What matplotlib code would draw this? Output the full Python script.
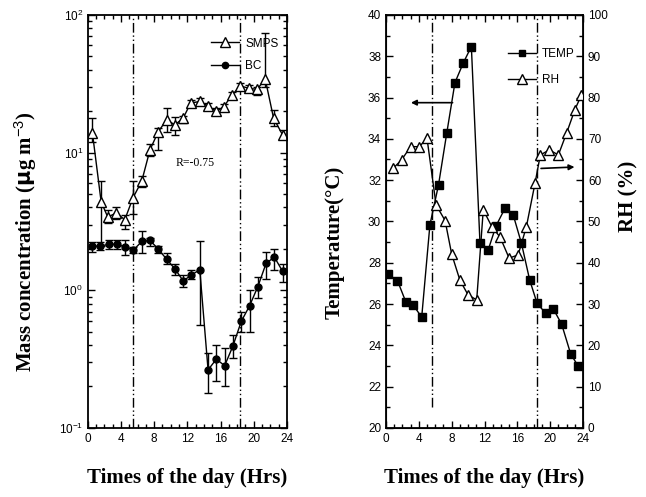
import matplotlib
matplotlib.use("Agg")
import matplotlib.pyplot as plt
import numpy as np
from matplotlib.ticker import MultipleLocator, LogLocator, NullFormatter
from matplotlib.lines import Line2D

# ---------------- data ----------------
smps_hr = [0.55, 1.6, 2.4, 3.45, 4.45, 5.45, 6.5, 7.5, 8.5, 9.5, 10.5, 11.5,
           12.4, 13.5, 14.5, 15.5, 16.4, 17.4, 18.4, 19.4, 20.4, 21.4, 22.4, 23.5]
smps = [13.9, 4.4, 3.4, 3.65, 3.25, 4.7, 6.2, 10.5, 14.2, 17.3, 15.9, 17.8,
        22.9, 23.5, 21.8, 19.9, 21.6, 26.2, 30.5, 29.3, 28.8, 34.1, 17.8, 13.4]
smps_lo = [12.0, 2.1, 3.1, 3.3, 2.8, 3.6, 5.6, 9.5, 10.5, 14.0, 13.5, 16.5,
           21.5, 22.0, 20.5, 18.8, 20.5, 25.0, 29.0, 27.5, 26.0, 30.0, 15.5, 12.5]
smps_hi = [17.8, 6.2, 3.8, 4.05, 3.5, 6.2, 6.8, 11.5, 15.0, 21.0, 18.0, 18.5,
           24.0, 25.0, 23.0, 21.0, 22.5, 27.5, 32.0, 31.0, 30.0, 74.0, 20.5, 14.5]

bc_hr = [0.5, 1.5, 2.5, 3.5, 4.5, 5.5, 6.5, 7.5, 8.5, 9.5, 10.5, 11.5,
         12.5, 13.5, 14.5, 15.5, 16.5, 17.5, 18.5, 19.5, 20.5, 21.5, 22.5, 23.5]
bc = [2.08, 2.1, 2.15, 2.17, 2.05, 1.96, 2.26, 2.3, 1.99, 1.68, 1.43, 1.17,
      1.29, 1.41, 0.264, 0.316, 0.283, 0.394, 0.593, 0.77, 1.06, 1.57, 1.74, 1.37]
bc_lo = [1.9, 1.95, 2.0, 2.0, 1.8, 1.85, 1.87, 2.1, 1.85, 1.55, 1.3, 1.05,
         1.2, 0.56, 0.18, 0.22, 0.2, 0.32, 0.5, 0.5, 0.88, 1.2, 1.4, 1.15]
bc_hi = [2.25, 2.25, 2.3, 2.3, 2.3, 2.05, 2.7, 2.4, 2.1, 1.85, 1.55, 1.3,
         1.4, 2.26, 0.35, 0.4, 0.38, 0.47, 0.7, 1.0, 1.25, 1.9, 2.0, 1.55]

temp_hr = [0.3, 1.4, 2.4, 3.3, 4.35, 5.35, 6.4, 7.4, 8.4, 9.4, 10.4, 11.45,
           12.45, 13.4, 14.5, 15.5, 16.5, 17.5, 18.4, 19.45, 20.4, 21.4, 22.5, 23.4]
temp = [27.44, 27.13, 26.12, 25.96, 25.36, 29.83, 31.77, 34.27, 36.72, 37.66, 38.47, 28.94,
        28.62, 29.78, 30.64, 30.31, 28.94, 27.17, 26.04, 25.55, 25.75, 25.02, 23.58, 23.0]

rh_hr = [0.9, 1.9, 3.0, 4.05, 5.0, 6.1, 7.2, 8.0, 9.0, 10.0, 11.05, 11.85,
         12.9, 13.9, 15.0, 16.1, 17.1, 18.15, 18.8, 19.9, 21.0, 22.0, 23.0, 23.8]
rh = [62.9, 64.9, 68.1, 68.1, 70.1, 54.0, 50.2, 42.1, 35.8, 32.2, 31.0, 52.8,
      48.7, 46.2, 41.1, 41.9, 48.7, 59.2, 66.1, 67.3, 66.1, 71.4, 77.0, 80.6]

sun_hr = [5.45, 18.35]
xticks = [0, 4, 8, 12, 16, 20, 24]

# ---------------- figure ----------------
plt.rcParams['font.family'] = ['Liberation Sans', 'DejaVu Sans']
plt.rcParams['mathtext.fontset'] = 'custom'
plt.rcParams['mathtext.rm'] = 'Liberation Sans'
plt.rcParams['mathtext.it'] = 'Liberation Sans'

fig = plt.figure(figsize=(6.46, 4.97), dpi=100)
ax1 = fig.add_axes([0.136, 0.139, 0.308, 0.831])
ax2 = fig.add_axes([0.5975, 0.139, 0.305, 0.831])

serif = 'Liberation Serif'
dashdot = (0, (7, 2, 1, 2, 1, 2))
lab_fs = 15

def style_x(ax):
    ax.set_xlim(0, 24)
    ax.set_xticks(xticks)
    ax.xaxis.set_minor_locator(MultipleLocator(1))
    ax.tick_params(which='both', direction='in', top=True, labelsize=8.5, width=1)
    ax.tick_params(which='major', length=5)
    ax.tick_params(which='minor', length=3)
    for s in ax.spines.values():
        s.set_linewidth(1.3)
    ax.set_xlabel('Times of the day (Hrs)', fontfamily=serif, fontweight='bold',
                  fontsize=lab_fs, labelpad=17)

# ---- left panel ----
smps_a = np.array(smps)
bc_a = np.array(bc)
ax1.errorbar(smps_hr, smps, yerr=[smps_a - np.array(smps_lo), np.array(smps_hi) - smps_a],
             color='black', lw=1, marker='^', mfc='white', mec='black', ms=6.5, mew=1,
             capsize=3, elinewidth=1)
ax1.errorbar(bc_hr, bc, yerr=[bc_a - np.array(bc_lo), np.array(bc_hi) - bc_a],
             color='black', lw=1, marker='o', mfc='black', mec='black', ms=5,
             capsize=3, elinewidth=1)
ax1.set_yscale('log')
ax1.set_ylim(0.1, 100)
ax1.yaxis.set_major_locator(LogLocator(base=10))
ax1.yaxis.set_minor_locator(LogLocator(base=10, subs=np.arange(2, 10)))
ax1.yaxis.set_minor_formatter(NullFormatter())
ax1.tick_params(which='both', right=True)
for h in sun_hr:
    ax1.axvline(h, color='black', lw=1, linestyle=dashdot)
style_x(ax1)
ax1.set_ylabel(r'Mass concentration ($\mathbf{\mu}$g m$^{-3}$)', fontfamily=serif,
               fontweight='bold', fontsize=lab_fs, labelpad=6)
ax1.yaxis.set_label_coords(-0.245, 0.45)
ax1.text(0.44, 0.635, 'R=-0.75', transform=ax1.transAxes, fontfamily=serif, fontsize=8.5)
hs = [Line2D([], [], color='black', lw=1, marker='^', mfc='white', mec='black', ms=6.5),
      Line2D([], [], color='black', lw=1, marker='o', mfc='black', mec='black', ms=4.5)]
ax1.legend(hs, ['SMPS', 'BC'], loc='upper right', bbox_to_anchor=(1.0, 0.965), frameon=False,
           fontsize=8.5, handlelength=2.4, handletextpad=0.5, labelspacing=0.9,
           borderaxespad=0.3)

# ---- right panel ----
ax2.plot(temp_hr, temp, color='black', lw=1, marker='s', ms=6, mfc='black',
         mec='black')
ax2.set_ylim(20, 40)
ax2.yaxis.set_major_locator(MultipleLocator(2))
ax2.yaxis.set_minor_locator(MultipleLocator(1))
style_x(ax2)
ax2.set_ylabel('Temperature(°C)', fontfamily=serif, fontweight='bold', fontsize=lab_fs)
ax2.yaxis.set_label_coords(-0.21, 0.45)
ax2.axvline(sun_hr[0] + 0.1, ymin=0.05, ymax=1, color='black', lw=1, linestyle=dashdot)
ax2.axvline(sun_hr[1], color='black', lw=1, linestyle=dashdot)

ax3 = ax2.twinx()
ax3.plot(rh_hr, rh, color='black', lw=1, marker='^', ms=6.5, mfc='white', mec='black')
ax3.set_ylim(0, 100)
ax3.yaxis.set_major_locator(MultipleLocator(10))
ax3.yaxis.set_minor_locator(MultipleLocator(5))
ax3.tick_params(which='both', direction='in', labelsize=8.5, width=1)
ax3.tick_params(which='major', length=5)
ax3.tick_params(which='minor', length=3)
ax3.set_ylabel('RH (%)', fontfamily=serif, fontweight='bold', fontsize=lab_fs)
ax3.yaxis.set_label_coords(1.18, 0.56)
ax3.set_xlim(0, 24)

# arrows indicating axes
ax2.annotate('', xy=(2.7, 35.75), xytext=(8.45, 35.75),
             arrowprops=dict(arrowstyle='-|>', color='black', lw=1.2, mutation_scale=8))
ax3.annotate('', xy=(23.3, 63.2), xytext=(18.55, 62.8),
             arrowprops=dict(arrowstyle='-|>', color='black', lw=1.2, mutation_scale=8))

hs2 = [Line2D([], [], color='black', lw=1, marker='s', mfc='black', mec='black', ms=5),
       Line2D([], [], color='black', lw=1, marker='^', mfc='white', mec='black', ms=6.5)]
ax3.legend(hs2, ['TEMP', 'RH'], loc='upper right', bbox_to_anchor=(1.0, 0.94), frameon=False,
           fontsize=8.5, handlelength=2.4, handletextpad=0.5, labelspacing=1.2,
           borderaxespad=0.3)

fig.savefig('out.png', dpi=100)
